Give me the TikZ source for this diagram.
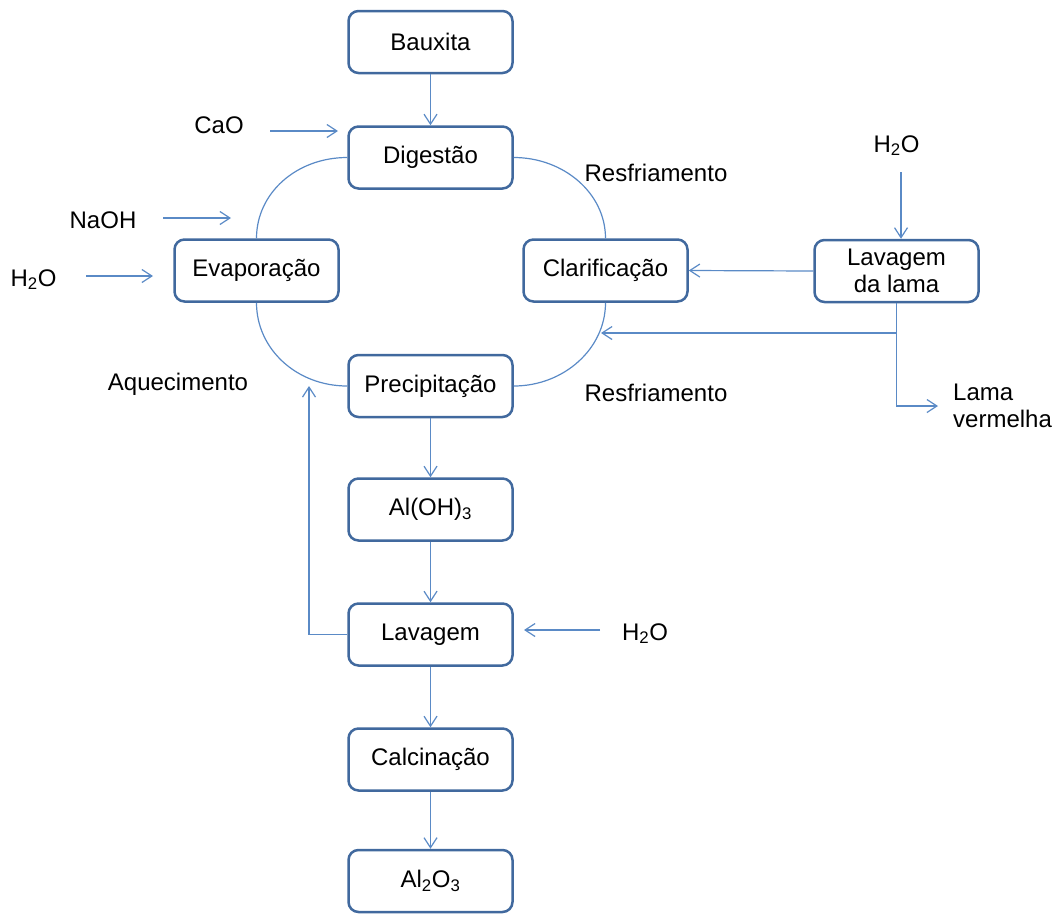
\documentclass[tikz,border=0pt]{standalone}
\usepackage{fontspec}
\setmainfont{Liberation Sans}
\usetikzlibrary{arrows.meta}
\definecolor{boxc}{HTML}{41699E}
\definecolor{linec}{HTML}{5A8AC6}
\begin{document}
\begin{tikzpicture}[x=1pt,y=-1pt,
  box/.style={draw=boxc, line width=2.5pt, rounded corners=10pt, fill=white, minimum width=164pt, minimum height=62pt, align=center, font=\fontsize{24}{27}\selectfont, inner sep=0pt},
  flow/.style={draw=linec, line width=1.2pt},
  arr/.style={flow, -{Straight Barb[length=10pt,width=13pt,line width=1.2pt]}},
  lbl/.style={anchor=base, font=\fontsize{24}{27}\selectfont, inner sep=0pt}]
\useasboundingbox (0,0) rectangle (1057,914);
% boxes
\node[box] (bau) at (430.5,42) {Bauxita};
\node[box] (dig) at (430.5,157.5) {Digestão};
\node[box] (eva) at (256.5,270.5) {Evaporação};
\node[box] (cla) at (605.5,270.5) {Clarificação};
\node[box] (lavl) at (896.5,271) {Lavagem\\da lama};
\node[box] (prec) at (430.5,386) {Precipitação};
\node[box] (aloh) at (430.5,509.5) {Al(OH)\textsubscript{3}};
\node[box] (lav) at (430.5,634.5) {Lavagem};
\node[box] (calc) at (430.5,759.5) {Calcinação};
\node[box] (alo) at (430.5,881) {Al\textsubscript{2}O\textsubscript{3}};
% labels
\node[lbl] (cao) at (219,133) {CaO};
\node[lbl] (naoh) at (103,228) {NaOH};
\node[lbl] (hl) at (33.5,286) {H\textsubscript{2}O};
\node[lbl] (aq) at (178,390) {Aquecimento};
\node[lbl] (rs1) at (656,181) {Resfriamento};
\node[lbl] (rs2) at (656,401) {Resfriamento};
\node[lbl] (htr) at (896.5,152) {H\textsubscript{2}O};
\node[lbl] (hlo) at (645,640) {H\textsubscript{2}O};
\node[anchor=west, font=\fontsize{24}{27}\selectfont, inner sep=0pt, align=left] (lama) at (953,406) {Lama\\vermelha};
% coordinates
\coordinate (caoS) at (270,131); \coordinate (caoE) at (338,131);
\coordinate (naS) at (163,218); \coordinate (naE) at (231,218);
\coordinate (hlS) at (86,276); \coordinate (hlE) at (153,276);
\coordinate (htS) at (901,172);
\coordinate (lamaE) at (938,406);
\coordinate (retS) at (896.5,333); \coordinate (retE) at (601,333);
\coordinate (retL) at (309,386);
\coordinate (hloS) at (600,630); \coordinate (hloE) at (524,630);
% connectors
\draw[arr] (bau) -- (dig);
\draw[arr] (prec) -- (aloh);
\draw[arr] (aloh) -- (lav);
\draw[arr] (lav) -- (calc);
\draw[arr] (calc) -- (alo);
\draw[arr] (caoS) -- (caoE);
\draw[arr] (naS) -- (naE);
\draw[arr] (hlS) -- (hlE);
\draw[arr] (htS) -- (htS |- lavl.north);
\draw[arr] (lavl.west) -- (cla.east);
\draw[arr] (lavl.south) |- (lamaE);
\draw[arr] (retS) -- (retE);
\draw[arr] (lav.west) -| (retL);
\draw[arr] (hloS) -- (hloE);
% arcs
\draw[flow] (dig.east) .. controls +(50,0) and +(0,-45) .. (cla.north);
\draw[flow] (dig.west) .. controls +(-51,0) and +(0,-45) .. (eva.north);
\draw[flow] (cla.south) .. controls +(0,46) and +(50,0) .. (prec.east);
\draw[flow] (eva.south) .. controls +(0,46) and +(-51,0) .. (prec.west);
\end{tikzpicture}
\end{document}
